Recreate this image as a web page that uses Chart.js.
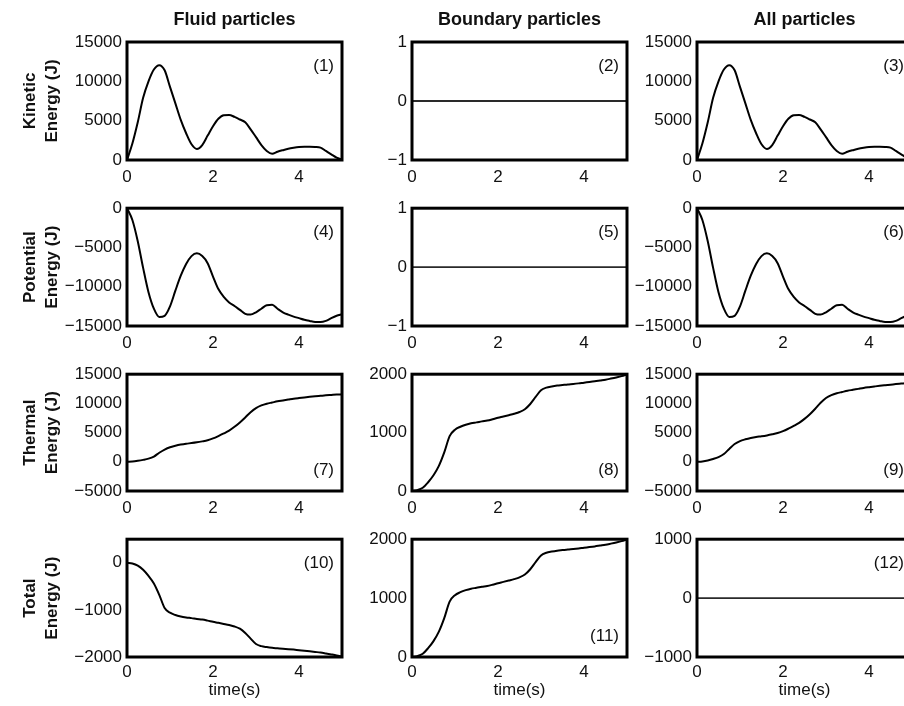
<!DOCTYPE html>
<html>
<head>
<meta charset="utf-8">
<script src="https://cdn.jsdelivr.net/npm/chart.js@4/dist/chart.umd.min.js"></script>
<style>
    html, body { margin: 0; padding: 0; background: #fff; width: 904px; height: 706px; overflow: hidden; }
    body { position: relative; }
</style>
</head>
<body>
<script>
// --- Data ---
const time = [0, 0.125, 0.25, 0.375, 0.5, 0.625, 0.75, 0.875, 1, 1.125, 1.25, 1.375, 1.5, 1.625, 1.75, 1.875,
    2, 2.125, 2.25, 2.375, 2.5, 2.625, 2.75, 2.875, 3, 3.125, 3.25, 3.375, 3.5, 3.625, 3.75, 3.875,
    4, 4.125, 4.25, 4.375, 4.5, 4.625, 4.75, 4.875, 5];

const fluidKinetic = [0, 2100, 4800, 7900, 10000, 11500, 12050, 11400, 9300, 7200, 5100, 3400, 2000, 1400, 1900, 3100,
    4300, 5250, 5700, 5720, 5480, 5150, 4800, 3900, 2900, 1900, 1150, 800, 1050, 1250, 1430, 1550,
    1640, 1680, 1680, 1660, 1580, 1150, 720, 300, 50];
const fluidPotential = [0, -1500, -4200, -7600, -10700, -12800, -13850, -13700, -12500, -10500, -8600, -7100, -6100, -5750, -6100, -7000,
    -8700, -10300, -11300, -12000, -12450, -12950, -13450, -13550, -13250, -12800, -12350, -12300, -12800, -13250, -13550, -13800,
    -14000, -14200, -14350, -14480, -14500, -14350, -14000, -13700, -13500];
const fluidThermal = [0, 50, 170, 330, 540, 900, 1550, 2100, 2500, 2750, 2950, 3100, 3200, 3330, 3500, 3700,
    4000, 4400, 4850, 5350, 6000, 6750, 7600, 8500, 9200, 9650, 9950, 10150, 10350, 10500, 10650, 10800,
    10920, 11030, 11130, 11220, 11300, 11380, 11450, 11520, 11550];
const fluidTotal = [0, -15, -60, -150, -280, -440, -680, -960, -1060, -1110, -1140, -1160, -1175, -1192, -1206, -1228,
    -1253, -1275, -1298, -1322, -1352, -1400, -1490, -1610, -1725, -1770, -1790, -1805, -1815, -1825, -1833, -1843,
    -1855, -1866, -1878, -1892, -1906, -1925, -1945, -1967, -1995];

const boundaryThermal = [0, 15, 55, 150, 270, 430, 660, 940, 1050, 1100, 1135, 1160, 1175, 1192, 1206, 1228,
    1253, 1275, 1298, 1322, 1352, 1400, 1490, 1610, 1725, 1770, 1790, 1805, 1815, 1825, 1833, 1843,
    1855, 1866, 1878, 1892, 1906, 1925, 1945, 1967, 1995];
const boundaryTotal = [0, 15, 55, 150, 270, 430, 660, 940, 1050, 1100, 1135, 1160, 1175, 1192, 1206, 1228,
    1253, 1275, 1298, 1322, 1352, 1400, 1490, 1610, 1725, 1770, 1790, 1805, 1815, 1825, 1833, 1843,
    1855, 1866, 1878, 1892, 1906, 1925, 1945, 1967, 1995];

const allKinetic = [0, 2100, 4800, 7900, 10000, 11500, 12050, 11400, 9300, 7200, 5100, 3400, 2000, 1400, 1900, 3100,
    4300, 5250, 5700, 5720, 5480, 5150, 4800, 3900, 2900, 1900, 1150, 800, 1050, 1250, 1430, 1550,
    1640, 1680, 1680, 1660, 1580, 1150, 720, 300, 50];
const allPotential = [0, -1500, -4200, -7600, -10700, -12800, -13850, -13700, -12500, -10500, -8600, -7100, -6100, -5750, -6100, -7000,
    -8700, -10300, -11300, -12000, -12450, -12950, -13450, -13550, -13250, -12800, -12350, -12300, -12800, -13250, -13550, -13800,
    -14000, -14200, -14350, -14480, -14500, -14350, -14000, -13700, -13500];
const allThermal = [0, 65, 225, 480, 810, 1330, 2210, 3040, 3550, 3850, 4085, 4260, 4375, 4520, 4705, 4930,
    5250, 5675, 6150, 6670, 7350, 8150, 9090, 10110, 10925, 11420, 11740, 11955, 12165, 12325, 12485, 12645,
    12775, 12895, 13010, 13110, 13205, 13305, 13395, 13485, 13545];

// flat zero lines
const flatTime = [0, 5];
const zeroLine = [0, 0];

// tick labels
const timeTicks = [0, 2, 4];
const kineticTicks = [0, 5000, 10000, 15000];
const potentialTicks = [-15000, -10000, -5000, 0];
const thermalTicks = [-5000, 0, 5000, 10000, 15000];
const boundaryTicks = [0, 1000, 2000];
const unitTicks = [-1, 0, 1];
const totalTicks = [-2000, -1000, 0];
const allTotalTicks = [-1000, 0, 1000];

const colTitles = ['Fluid particles', 'Boundary particles', 'All particles'];
const rowTitles = [['Kinetic', 'Energy (J)'], ['Potential', 'Energy (J)'], ['Thermal', 'Energy (J)'], ['Total', 'Energy (J)']];

const panels = [
    { row: 0, col: 0, x: time, y: fluidKinetic, min: 0, max: 15000, ticks: kineticTicks, tag: '(1)', corner: 'top' },
    { row: 0, col: 1, x: flatTime, y: zeroLine, min: -1, max: 1, ticks: unitTicks, tag: '(2)', corner: 'top', flat: true },
    { row: 0, col: 2, x: time, y: allKinetic, min: 0, max: 15000, ticks: kineticTicks, tag: '(3)', corner: 'top' },
    { row: 1, col: 0, x: time, y: fluidPotential, min: -15000, max: 0, ticks: potentialTicks, tag: '(4)', corner: 'top' },
    { row: 1, col: 1, x: flatTime, y: zeroLine, min: -1, max: 1, ticks: unitTicks, tag: '(5)', corner: 'top', flat: true },
    { row: 1, col: 2, x: time, y: allPotential, min: -15000, max: 0, ticks: potentialTicks, tag: '(6)', corner: 'top' },
    { row: 2, col: 0, x: time, y: fluidThermal, min: -5000, max: 15000, ticks: thermalTicks, tag: '(7)', corner: 'bottom' },
    { row: 2, col: 1, x: time, y: boundaryThermal, min: 0, max: 2000, ticks: boundaryTicks, tag: '(8)', corner: 'bottom' },
    { row: 2, col: 2, x: time, y: allThermal, min: -5000, max: 15000, ticks: thermalTicks, tag: '(9)', corner: 'bottom' },
    { row: 3, col: 0, x: time, y: fluidTotal, min: -2000, max: 500, ticks: totalTicks, tag: '(10)', corner: 'top' },
    { row: 3, col: 1, x: time, y: boundaryTotal, min: 0, max: 2000, ticks: boundaryTicks, tag: '(11)', corner: 'bottom' },
    { row: 3, col: 2, x: flatTime, y: zeroLine, min: -1000, max: 1000, ticks: allTotalTicks, tag: '(12)', corner: 'top', flat: true }
];

// --- Layout ---
const colLeft = [127, 412, 697];
const rowTop = [42, 207, 373, 538];
const rowHeight = [118, 119, 118, 119];
const plotWidth = 215;
const FONT = '"Liberation Sans", Arial, Helvetica, sans-serif';

Chart.defaults.font.family = FONT;
Chart.defaults.font.size = 17;
Chart.defaults.color = '#111';

const fmt = v => (v < 0 ? '\u2212' + Math.abs(v) : String(v));

// box around plot area, panel tag and column heading
const framePlugin = {
    id: 'frame',
    afterDraw(chart, args, opts) {
        const { ctx, chartArea: a } = chart;
        ctx.save();
        ctx.lineWidth = 3;
        ctx.strokeStyle = '#000';
        ctx.strokeRect(a.left, a.top, a.right - a.left, a.bottom - a.top);

        ctx.fillStyle = '#111';
        ctx.font = '17px ' + FONT;
        ctx.textAlign = 'right';
        ctx.textBaseline = 'middle';
        const ty = opts.corner === 'bottom' ? a.bottom - 21 : a.top + 24;
        ctx.fillText(opts.tag, a.right - 8, ty);

        if (opts.heading) {
            ctx.font = 'bold 18px ' + FONT;
            ctx.textAlign = 'center';
            ctx.fillText(opts.heading, (a.left + a.right) / 2, a.top - 22);
        }
        ctx.restore();
    }
};

panels.forEach(p => {
    const padL = p.col === 0 ? 125 : 75;
    const padT = p.row === 0 ? 42 : 14;
    const padR = 14;
    const padB = p.row === 3 ? 49 : 30;
    const w = plotWidth + padL + padR;
    const h = rowHeight[p.row] + padT + padB;

    const canvas = document.createElement('canvas');
    canvas.width = w;
    canvas.height = h;
    canvas.style.cssText = `position:absolute;left:${colLeft[p.col] - padL}px;top:${rowTop[p.row] - padT}px;width:${w}px;height:${h}px`;
    document.body.appendChild(canvas);

    new Chart(canvas, {
        type: 'line',
        data: {
            datasets: [{
                data: p.y.map((v, k) => ({ x: p.x[k], y: v })),
                borderColor: p.flat ? '#2a2a2a' : '#000',
                borderWidth: p.flat ? 1.8 : 2,
                pointRadius: 0,
                cubicInterpolationMode: 'monotone',
                fill: false
            }]
        },
        options: {
            responsive: false,
            animation: false,
            events: [],
            layout: { padding: { left: 0, top: padT, right: padR, bottom: 0 } },
            plugins: {
                legend: { display: false },
                tooltip: { enabled: false },
                frame: { tag: p.tag, corner: p.corner, heading: p.row === 0 ? colTitles[p.col] : '' }
            },
            scales: {
                x: {
                    type: 'linear', min: 0, max: 5,
                    afterBuildTicks: s => { s.ticks = timeTicks.map(v => ({ value: v })); },
                    afterFit: s => { s.height = padB; },
                    ticks: { padding: p.row === 3 ? 5 : 7, maxRotation: 0, callback: fmt },
                    grid: { display: false, drawTicks: false },
                    border: { display: false },
                    title: { display: p.row === 3, text: 'time(s)', padding: { top: 0, bottom: 5 } }
                },
                y: {
                    min: p.min, max: p.max,
                    afterBuildTicks: s => { s.ticks = p.ticks.map(v => ({ value: v })); },
                    afterFit: s => { s.width = padL; },
                    ticks: { padding: 5, callback: fmt },
                    grid: { display: false, drawTicks: false },
                    border: { display: false },
                    title: {
                        display: p.col === 0,
                        text: rowTitles[p.row],
                        font: { size: 17, weight: 'bold', lineHeight: 1.3 },
                        padding: { top: 17, bottom: 0 }
                    }
                }
            }
        },
        plugins: [framePlugin]
    });
});
</script>
</body>
</html>
